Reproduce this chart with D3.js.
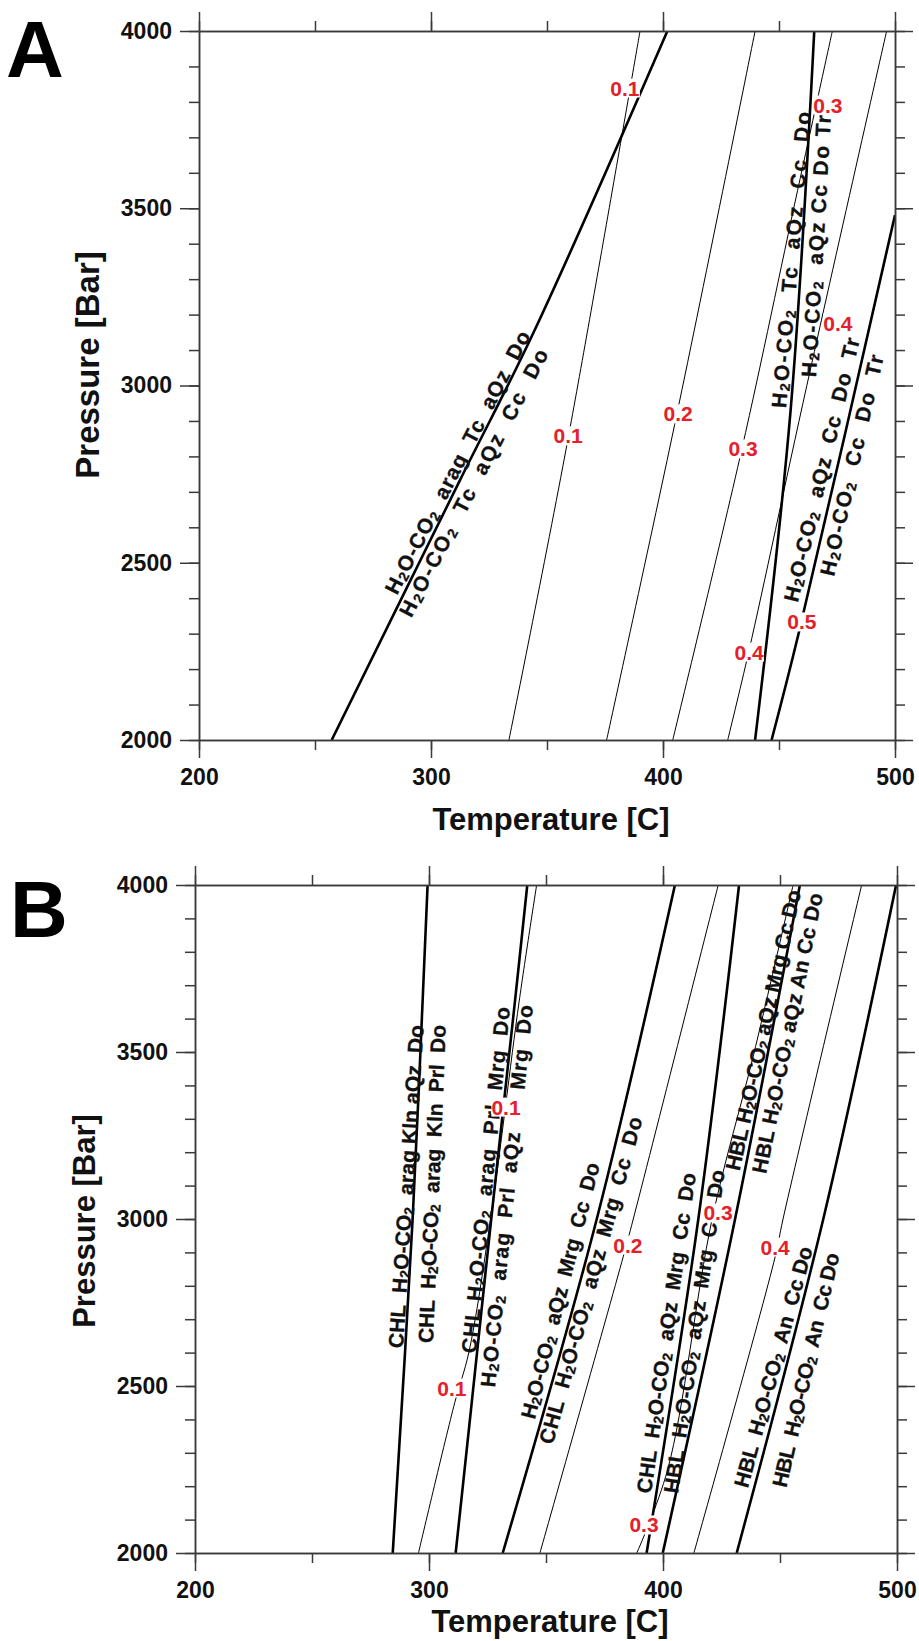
<!DOCTYPE html>
<html>
<head>
<meta charset="utf-8">
<script src="https://cdn.jsdelivr.net/npm/d3@7"></script>
<style>
    body { margin: 0; background: #fff; }
    svg { display: block; }
    text { font-family: "Liberation Sans", Arial, Helvetica, sans-serif; }
</style>
</head>
<body>
<svg id="chart" width="919" height="1641"></svg>
<script>
// axis ticks
const tempTicks = [200, 300, 400, 500]
const tempMinor = [200, 250, 300, 350, 400, 450, 500]
const pressTicks = [2000, 2500, 3000, 3500, 4000]

// ---- panel A : reaction boundaries (thick), points are [T (C), P (bar)]
const aRxn1 = [[257.2, 2000], [312.5, 2733], [344.1, 3148], [401.9, 4000]]
const aRxn2 = [[439.7, 2000], [455, 2930], [465.2, 4000]]
const aRxn3 = [[446.8, 2000], [458.3, 2296], [500, 3481]]

// panel A : xCO2 contours (thin)
const aX01 = [[333.6, 2000], [358.5, 2830], [390.1, 4000]]
const aX02 = [[375.7, 2000], [406, 2920], [439.7, 4000]]
const aX03 = [[404.2, 2000], [434, 2821], [458, 3550], [473, 4000]]
const aX04 = [[427.9, 2000], [437, 2250], [462, 3000], [496.4, 4000]]

const aRxnLabels = [
    { text: "H2O-CO2  arag  Tc  aQz  Do", from: [282.3, 2417], to: [340.1, 3151] },
    { text: "H2O-CO2  Tc  aQz  Cc  Do", from: [288.4, 2353], to: [347.8, 3100] },
    { text: "H2O-CO2  Tc  aQz  Cc  Do", from: [449.6, 2937], to: [460.3, 3772] },
    { text: "H2O-CO2  aQz Cc Do Tr", from: [462.5, 3024], to: [469.0, 3763] },
    { text: "H2O-CO2  aQz  Cc  Do  Tr", from: [454.7, 2392], to: [481.5, 3134] },
    { text: "H2O-CO2  Cc  Do  Tr", from: [470.3, 2465], to: [491.8, 3086] },
]

const aXLabels = [
    { value: "0.1", at: [383.6, 3839] },
    { value: "0.1", at: [359.1, 2858] },
    { value: "0.2", at: [406.5, 2920] },
    { value: "0.3", at: [434.5, 2821] },
    { value: "0.3", at: [471.1, 3791] },
    { value: "0.4", at: [437.1, 2248] },
    { value: "0.4", at: [475.4, 3176] },
    { value: "0.5", at: [459.9, 2333] },
]

// ---- panel B : reaction boundaries (thick)
const bRxn1 = [[284.5, 2000], [293, 3000], [299.4, 4000]]
const bRxn2 = [[311.4, 2000], [317.5, 2400], [326.6, 3000], [336.8, 3656], [342, 4000]]
const bRxn3 = [[331.5, 2000], [371.7, 3000], [405.1, 4000]]
const bRxn4 = [[393, 2000], [415.1, 3000], [432.5, 4000]]
const bRxn5 = [[399.9, 2000], [430.8, 3000], [458.5, 4000]]
const bRxn6 = [[431.5, 2000], [468.5, 3000], [499.6, 4000]]

// panel B : xCO2 contours (thin)
const bX01 = [[295.5, 2000], [311, 2450], [317, 2600], [326.3, 3000], [338.5, 3650], [346, 4000]]
const bX02 = [[347.4, 2000], [383, 2887], [387.3, 3000], [423.6, 4000]]
const bX03 = [[388.8, 2000], [402, 2250], [421, 3000], [439, 3500], [455.6, 4000]]
const bX04 = [[413.2, 2000], [447.9, 2886], [451.3, 3000], [484.9, 4000]]

const bRxnLabels = [
    { text: "CHL  H2O-CO2  arag Kln aQz  Do", from: [285.5, 2614], to: [294.4, 3581] },
    { text: "CHL  H2O-CO2  arag  Kln  Prl  Do", from: [298.3, 2629], to: [303.8, 3581] },
    { text: "CHL H2O-CO2  arag  Prl  Mrg  Do", from: [316.7, 2599], to: [331.2, 3635] },
    { text: "H2O-CO2  arag  Prl  aQz      Mrg  Do", from: [324.8, 2497], to: [341.0, 3641] },
    { text: "H2O-CO2  aQz  Mrg  Cc  Do", from: [341.9, 2404], to: [369.7, 3168] },
    { text: "CHL  H2O-CO2  aQz  Mrg  Cc  Do", from: [349.6, 2329], to: [388.0, 3305] },
    { text: "CHL  H2O-CO2  aQz  Mrg  Cc  Do", from: [391.5, 2180], to: [410.7, 3138] },
    { text: "HBL  H2O-CO2  aQz  Mrg  Cc  Do", from: [403.0, 2180], to: [423.1, 3147] },
    { text: "HBL H2O-CO2 aQz Mrg Cc Do", from: [429.4, 3147], to: [455.7, 3985] },
    { text: "HBL H2O-CO2 aQz An Cc Do", from: [440.7, 3138], to: [465.0, 3976] },
    { text: "HBL  H2O-CO2  An  Cc Do", from: [432.9, 2199], to: [460.7, 2917] },
    { text: "HBL  H2O-CO2  An  Cc Do", from: [449.3, 2199], to: [472.1, 2898] },
]

const bXLabels = [
    { value: "0.1", at: [309.8, 2494] },
    { value: "0.1", at: [332.9, 3335] },
    { value: "0.2", at: [385.0, 2922] },
    { value: "0.3", at: [391.9, 2084] },
    { value: "0.3", at: [423.5, 3018] },
    { value: "0.4", at: [447.9, 2916] },
]

const svg = d3.select("#chart")
const RED = "#e4202a"
const AXIS = "#3a3a3a"

// writes a label, digits become subscripts (H2O-CO2)
function chem(textSel, str) {
    let sub = false
    str.split(/(\d)/).forEach((part) => {
        if (part === "") return
        if (/^\d$/.test(part)) {
            textSel.append("tspan").attr("font-size", 14).attr("dy", 5).text(part)
            sub = true
        } else {
            let t = textSel.append("tspan").text(part)
            if (sub) t.attr("dy", -5)
            sub = false
        }
    })
}

function styleAxis(sel, labelled) {
    sel.attr("font-family", null).attr("font-size", 23).attr("font-weight", "bold")
    sel.select(".domain").attr("stroke", AXIS).attr("stroke-width", 1.5)
    sel.selectAll(".tick line").attr("stroke", AXIS).attr("stroke-width", 1.5)
    sel.selectAll(".tick text").attr("fill", "#111")
    if (!labelled) sel.selectAll(".tick text").remove()
}

function drawPanel(p, rxns, xco2, rxnLabels, xLabels) {
    let x = d3.scaleLinear().domain([200, 500]).range([p.left, p.right])
    let y = d3.scaleLinear().domain([2000, 4000]).range([p.bottom, p.top])
    let g = svg.append("g")

    g.append("clipPath")
        .attr("id", "clip" + p.letter)
        .append("rect")
        .attr("x", p.left)
        .attr("y", p.top)
        .attr("width", p.right - p.left)
        .attr("height", p.bottom - p.top)

    let line = d3
        .line()
        .x((d) => x(d[0]))
        .y((d) => y(d[1]))
        .curve(d3.curveCatmullRom)

    let plot = g.append("g").attr("clip-path", "url(#clip" + p.letter + ")")

    plot.selectAll("path.thin")
        .data(xco2)
        .join("path")
        .attr("class", "thin")
        .attr("d", line)
        .attr("fill", "none")
        .attr("stroke", "#000")
        .attr("stroke-width", 1)

    plot.selectAll("path.thick")
        .data(rxns)
        .join("path")
        .attr("class", "thick")
        .attr("d", line)
        .attr("fill", "none")
        .attr("stroke", "#000")
        .attr("stroke-width", 2.6)

    // axes, ticks outward on all four sides
    let pressMinor = d3.range(2000, 4001, 100)
    let axes = [
        [d3.axisBottom(x).tickValues(tempMinor).tickSize(10), "translate(0," + p.bottom + ")", false],
        [d3.axisBottom(x).tickValues(tempTicks).tickSize(18).tickPadding(11).tickFormat(d3.format("d")), "translate(0," + p.bottom + ")", true],
        [d3.axisTop(x).tickValues(tempMinor).tickSize(10), "translate(0," + p.top + ")", false],
        [d3.axisTop(x).tickValues(tempTicks).tickSize(19), "translate(0," + p.top + ")", false],
        [d3.axisLeft(y).tickValues(pressMinor).tickSize(10), "translate(" + p.left + ",0)", false],
        [d3.axisLeft(y).tickValues(pressTicks).tickSize(19).tickPadding(8).tickFormat(d3.format("d")), "translate(" + p.left + ",0)", true],
        [d3.axisRight(y).tickValues(pressMinor).tickSize(10), "translate(" + p.right + ",0)", false],
        [d3.axisRight(y).tickValues(pressTicks).tickSize(18), "translate(" + p.right + ",0)", false],
    ]
    axes.forEach(([ax, tr, labelled]) => {
        let a = g.append("g").attr("transform", tr).call(ax.tickSizeOuter(0))
        styleAxis(a, labelled)
    })

    // reaction labels, rotated along their boundary
    rxnLabels.forEach((l) => {
        let x0 = x(l.from[0]), y0 = y(l.from[1])
        let x1 = x(l.to[0]), y1 = y(l.to[1])
        let ang = (Math.atan2(y1 - y0, x1 - x0) * 180) / Math.PI
        let len = Math.hypot(x1 - x0, y1 - y0)
        let t = g
            .append("text")
            .attr("transform", "translate(" + x0 + "," + y0 + ") rotate(" + ang + ")")
            .attr("dominant-baseline", "central")
            .attr("font-size", 21)
            .attr("font-weight", "bold")
            .attr("fill", "#111")
            .attr("stroke", "#111")
            .attr("stroke-width", 0.3)
            .attr("textLength", len)
            .attr("lengthAdjust", "spacing")
            .style("white-space", "pre")
        chem(t, l.text)
    })

    // xCO2 contour labels with a white patch behind
    xLabels.forEach((l) => {
        let lg = g.append("g")
        let t = lg
            .append("text")
            .attr("x", x(l.at[0]))
            .attr("y", y(l.at[1]))
            .attr("text-anchor", "middle")
            .attr("dominant-baseline", "central")
            .attr("font-size", 21)
            .attr("font-weight", "bold")
            .attr("fill", RED)
            .text(l.value)
        let b = t.node().getBBox()
        lg.insert("rect", "text")
            .attr("x", b.x)
            .attr("y", b.y + 2)
            .attr("width", b.width)
            .attr("height", b.height - 4)
            .attr("fill", "#fff")
    })

    // titles
    g.append("text")
        .attr("x", (p.left + p.right) / 2 + 4)
        .attr("y", p.bottom + p.xTitleDy)
        .attr("text-anchor", "middle")
        .attr("font-size", 31)
        .attr("font-weight", "bold")
        .attr("fill", "#111")
        .text("Temperature [C]")

    g.append("text")
        .attr("transform", "translate(" + (p.left - 100) + "," + p.yTitleY + ") rotate(-90)")
        .attr("text-anchor", "middle")
        .attr("font-size", p.yTitleSize)
        .attr("font-weight", "bold")
        .attr("fill", "#111")
        .text("Pressure [Bar]")

    g.append("text")
        .attr("x", p.letterX)
        .attr("y", p.letterY)
        .attr("font-size", 80)
        .attr("font-weight", "bold")
        .attr("fill", "#000")
        .text(p.letter)
}

drawPanel(
    { letter: "A", left: 199, right: 895, top: 31, bottom: 740, xTitleDy: 90, yTitleY: 365, yTitleSize: 33, letterX: 6, letterY: 77 },
    [aRxn1, aRxn2, aRxn3],
    [aX01, aX02, aX03, aX04],
    aRxnLabels,
    aXLabels
)

drawPanel(
    { letter: "B", left: 195, right: 897, top: 885, bottom: 1553, xTitleDy: 79, yTitleY: 1221, yTitleSize: 31, letterX: 10, letterY: 937 },
    [bRxn1, bRxn2, bRxn3, bRxn4, bRxn5, bRxn6],
    [bX01, bX02, bX03, bX04],
    bRxnLabels,
    bXLabels
)
</script>
</body>
</html>
